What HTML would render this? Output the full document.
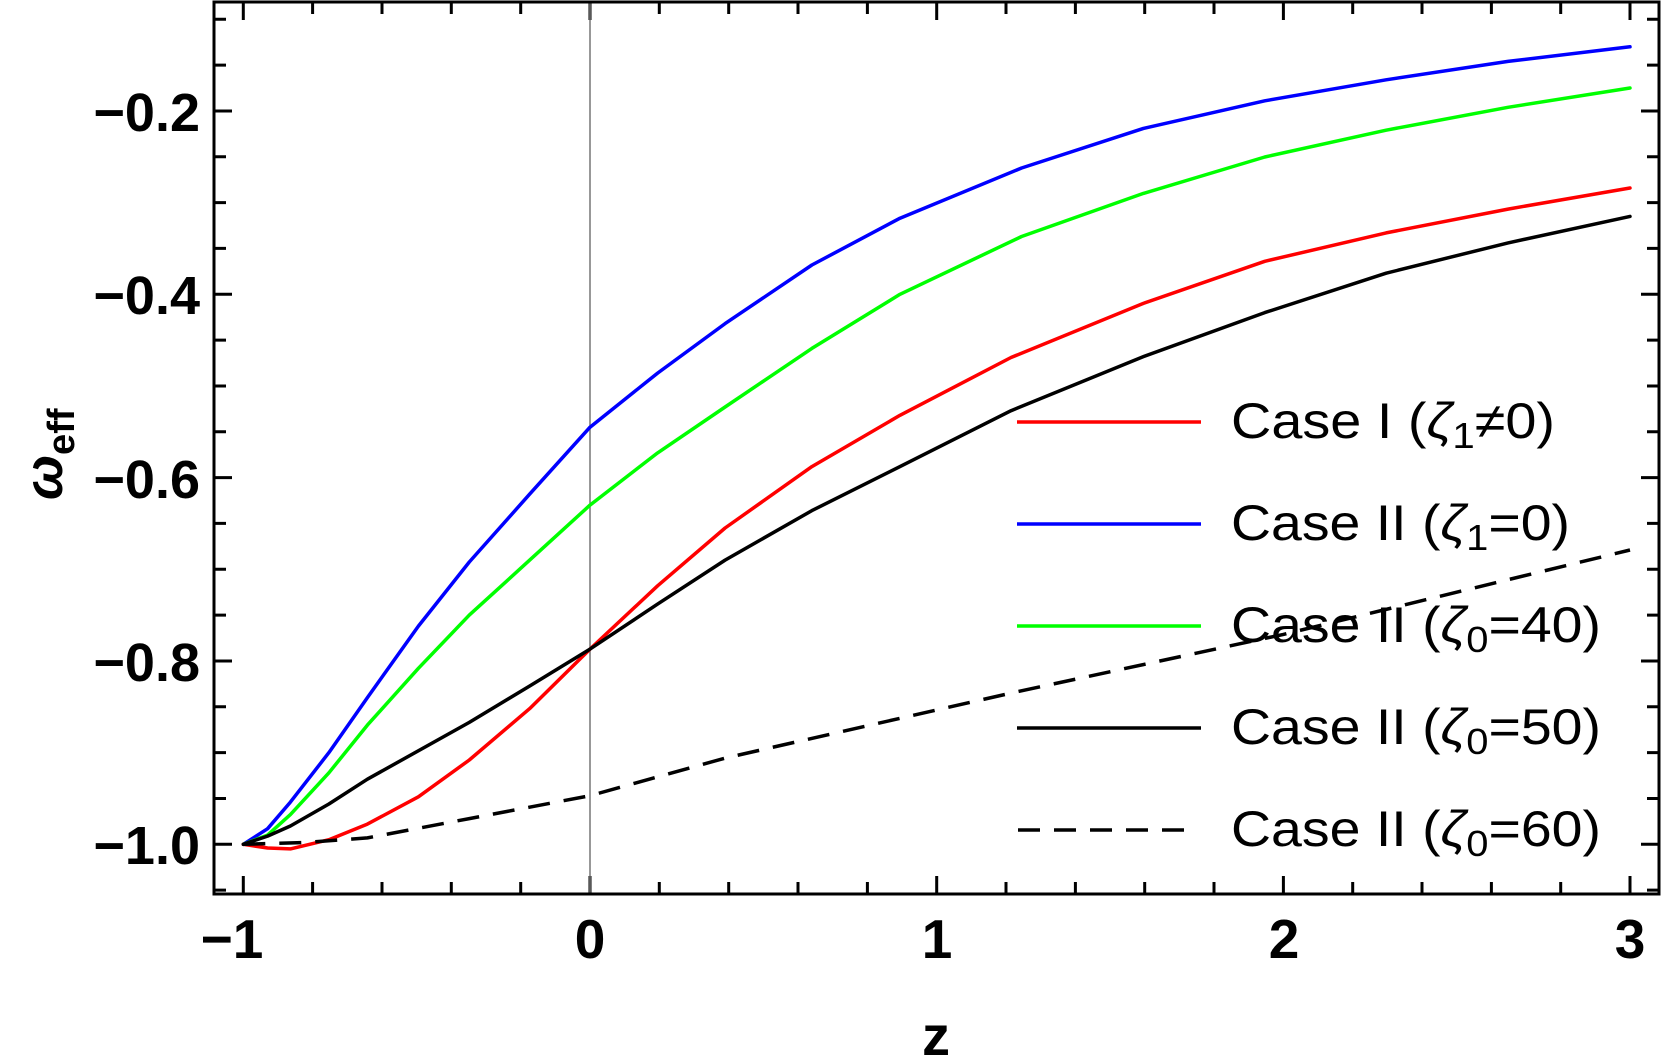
<!DOCTYPE html>
<html><head><meta charset="utf-8"><style>
html,body{margin:0;padding:0;background:#fff;}
svg{display:block;}
</style></head><body>
<svg width="1661" height="1061" viewBox="0 0 1661 1061" xmlns="http://www.w3.org/2000/svg">
<rect width="1661" height="1061" fill="#fff"/>
<path stroke="#000" stroke-width="3" fill="none" d="
M243.3,894V876 M312.6,894V882 M382,894V882 M451.3,894V882 M520.7,894V882 M590,894V876 M659.3,894V882 M728.7,894V882 M798,894V882 M867.4,894V882 M936.7,894V876 M1006,894V882 M1075.4,894V882 M1144.7,894V882 M1214,894V882 M1283.4,894V876 M1352.7,894V882 M1422,894V882 M1491.4,894V882 M1560.7,894V882 M1630,894V876
M243.3,2V20 M312.6,2V14 M382,2V14 M451.3,2V14 M520.7,2V14 M590,2V20 M659.3,2V14 M728.7,2V14 M798,2V14 M867.4,2V14 M936.7,2V20 M1006,2V14 M1075.4,2V14 M1144.7,2V14 M1214,2V14 M1283.4,2V20 M1352.7,2V14 M1422,2V14 M1491.4,2V14 M1560.7,2V14 M1630,2V20
M214,890.1H226 M214,844.3H232 M214,798.5H226 M214,752.6H226 M214,706.8H226 M214,661H232 M214,615.1H226 M214,569.3H226 M214,523.4H226 M214,477.6H232 M214,431.8H226 M214,386H226 M214,340.1H226 M214,294.3H232 M214,248.4H226 M214,202.6H226 M214,156.8H226 M214,111H232 M214,65.1H226 M214,19.3H226
M1659,890.1H1647 M1659,844.3H1641 M1659,798.5H1647 M1659,752.6H1647 M1659,706.8H1647 M1659,661H1641 M1659,615.1H1647 M1659,569.3H1647 M1659,523.4H1647 M1659,477.6H1641 M1659,431.8H1647 M1659,386H1647 M1659,340.1H1647 M1659,294.3H1641 M1659,248.4H1647 M1659,202.6H1647 M1659,156.8H1647 M1659,111H1641 M1659,65.1H1647 M1659,19.3H1647"/>
<line x1="590" y1="2" x2="590" y2="894" stroke="#777" stroke-width="1.5"/>
<g fill="none" stroke-width="3.5" stroke-linejoin="round" stroke-linecap="round">
<polyline stroke="#0000ff" points="243.3,844.3 267.6,828.7 290.4,802.1 328.9,752.6 367.4,697.6 418.4,626.1 469.3,562 529.7,494.1 590,427.2 657.6,373.1 725.1,323.6 811.9,265 900,218.2 1021.6,168 1143.4,128.4 1264.8,100.8 1386.1,79.8 1508,61.4 1630,46.8"/>
<polyline stroke="#00ff00" points="243.3,844.3 267.6,835.1 290.4,814.6 328.9,772.8 367.4,725.1 418.4,668.3 469.3,615.1 529.7,560.1 590,505.1 657.6,452.9 725.1,407 811.9,348.4 900,294.3 1021.6,236.5 1143.4,193.4 1264.8,157 1386.1,130.2 1508,107.3 1630,88"/>
<polyline stroke="#ff0000" points="243.3,844.3 267.6,848 290.4,848.9 328.9,839.7 367.4,824.1 418.4,796.8 469.3,760 529.7,708.6 590,649.1 657.6,585.8 725.1,528 811.9,466.6 900,415.3 1011,357.5 1143.4,303.4 1264.8,261.3 1386.1,232.9 1508,209.1 1630,188"/>
<polyline stroke="#000000" points="243.3,844.3 267.6,836.1 290.4,826 328.9,804 367.4,779.2 469.3,722.4 529.7,686 590,649.1 657.6,604.1 725.1,560.1 811.9,510.6 900,466.6 1011,410.7 1143.4,356.6 1264.8,312.6 1386.1,273.2 1508,242.9 1630,216.4"/>
<polyline stroke="#000000" stroke-dasharray="22,14" stroke-linecap="butt" points="243.3,844.3 305.7,842.5 367.4,837.9 469.3,818.6 590,795.7 725.1,758.1 1011,693.1 1283.4,634.4 1630,550"/>
</g>
<rect x="214" y="2" width="1445" height="892" fill="none" stroke="#000" stroke-width="3"/>
<g font-family="Liberation Sans, sans-serif" font-weight="bold" font-size="54" fill="#000" text-anchor="end">
<text x="200" y="131">−0.2</text>
<text x="200" y="314">−0.4</text>
<text x="200" y="498">−0.6</text>
<text x="200" y="681">−0.8</text>
<text x="200" y="864">−1.0</text>
</g>
<g font-family="Liberation Sans, sans-serif" font-weight="bold" font-size="55" fill="#000" text-anchor="middle">
<text x="232" y="958">−1</text>
<text x="590" y="958">0</text>
<text x="937" y="958">1</text>
<text x="1284" y="958">2</text>
<text x="1630" y="958">3</text>
<text x="936" y="1055" font-size="56">z</text>
</g>
<text transform="translate(62,500) rotate(-90)" font-family="Liberation Sans, sans-serif" font-weight="bold" font-size="54" fill="#000"><tspan font-style="italic">ω</tspan><tspan font-size="38" dy="12">eff</tspan></text>
<g stroke-width="3.5">
<line x1="1017" y1="422" x2="1201" y2="422" stroke="#ff0000"/>
<line x1="1017" y1="524" x2="1201" y2="524" stroke="#0000ff"/>
<line x1="1017" y1="626" x2="1201" y2="626" stroke="#00ff00"/>
<line x1="1017" y1="728" x2="1201" y2="728" stroke="#000"/>
<line x1="1018" y1="830" x2="1185" y2="830" stroke="#000" stroke-dasharray="22,14"/>
</g>
<g font-family="Liberation Sans, sans-serif" font-size="50" fill="#000">
<text x="1231" y="438" textLength="324" lengthAdjust="spacingAndGlyphs">Case I (<tspan font-style="italic">ζ</tspan><tspan font-size="36" dy="10">1</tspan><tspan dy="-10">≠0)</tspan></text>
<text x="1231" y="540" textLength="339" lengthAdjust="spacingAndGlyphs">Case II (<tspan font-style="italic">ζ</tspan><tspan font-size="36" dy="10">1</tspan><tspan dy="-10">=0)</tspan></text>
<text x="1231" y="642" textLength="370" lengthAdjust="spacingAndGlyphs">Case II (<tspan font-style="italic">ζ</tspan><tspan font-size="36" dy="10">0</tspan><tspan dy="-10">=40)</tspan></text>
<text x="1231" y="744" textLength="370" lengthAdjust="spacingAndGlyphs">Case II (<tspan font-style="italic">ζ</tspan><tspan font-size="36" dy="10">0</tspan><tspan dy="-10">=50)</tspan></text>
<text x="1231" y="846" textLength="370" lengthAdjust="spacingAndGlyphs">Case II (<tspan font-style="italic">ζ</tspan><tspan font-size="36" dy="10">0</tspan><tspan dy="-10">=60)</tspan></text>
</g>
</svg>
</body></html>
